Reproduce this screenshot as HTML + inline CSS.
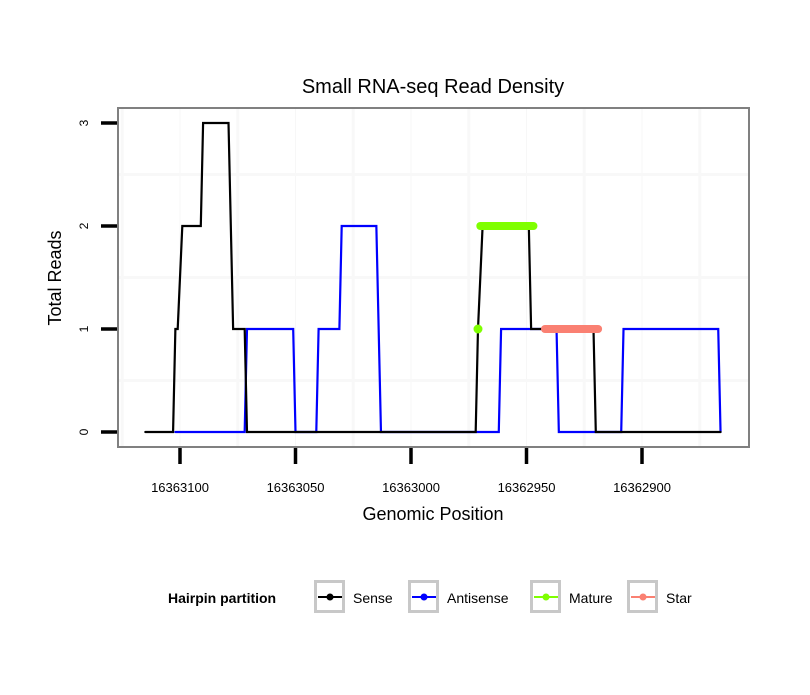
<!DOCTYPE html>
<html><head><meta charset="utf-8"><style>
body{margin:0;background:#fff;}
svg text{font-family:"Liberation Sans",sans-serif;}
</style></head><body>
<svg id="chart" width="810" height="690" xmlns="http://www.w3.org/2000/svg">
<rect width="810" height="690" fill="#fff"/>
<text x="433" y="93" font-size="20" text-anchor="middle">Small RNA-seq Read Density</text>
<g id="grid"></g>
<g id="series"></g>
<rect x="118" y="108" width="631" height="339" fill="none" stroke="#808080" stroke-width="2"/>
<g id="axes"></g>
<text x="433" y="520" font-size="18" text-anchor="middle">Genomic Position</text>
<text transform="translate(61,278) rotate(-90)" font-size="18" text-anchor="middle">Total Reads</text>
<g id="legend"></g>
</svg>
<script>
const xTicks=[16363100,16363050,16363000,16362950,16362900];
const yTicks=[0,1,2,3];
const senseX=[16363115,16363103,16363102,16363101,16363099,16363091,16363090,16363079,16363077,16363072,16363071,16362972,16362971,16362969,16362949,16362948,16362921,16362920,16362866];
const senseY=[0,0,1,1,2,2,3,3,1,1,0,0,1,2,2,1,1,0,0];
const antiX=[16363102,16363072,16363071,16363051,16363050,16363041,16363040,16363031,16363030,16363015,16363013,16362962,16362961,16362937,16362936,16362909,16362908,16362867,16362866];
const antiY=[0,0,1,1,0,0,1,1,2,2,0,0,1,1,0,0,1,1,0];
const matureX=[16362970,16362947];
const matureY=[2,2];
const matureDotX=[16362971];
const matureDotY=[1];
const starX=[16362942,16362919];
const starY=[1,1];
const legendLabels=["Sense","Antisense","Mature","Star"];
const legendColors=["#000000","#0000ff","#7fff00","#fa8072"];

const NS="http://www.w3.org/2000/svg";
const px=v=>180+(16363100-v)*2.31;
const py=v=>432-v*103;
function mk(tag,attrs,parent){const e=document.createElementNS(NS,tag);for(const k in attrs)e.setAttribute(k,attrs[k]);parent.appendChild(e);return e;}
const grid=document.getElementById('grid'),series=document.getElementById('series'),axes=document.getElementById('axes'),legend=document.getElementById('legend');
mk('rect',{x:118,y:108,width:631,height:339,fill:'#fff'},grid);
for(let i=-1;i<xTicks.length;i++){
  const v=i<0?xTicks[0]+25:xTicks[i]-25;
  const l=mk('line',{x1:px(v),x2:px(v),y1:109,y2:446,stroke:'#f8f8f8','stroke-width':3},grid);
  
  
}
xTicks.forEach(v=>{const l=mk('line',{x1:px(v),x2:px(v),y1:109,y2:446,stroke:'#f7f7f7','stroke-width':1},grid);
  
  });
for(let i=0;i<yTicks.length-1;i++){
  const v=yTicks[i]+0.5;
  const l=mk('line',{x1:119,x2:748,y1:py(v),y2:py(v),stroke:'#f8f8f8','stroke-width':3},grid);
  
  
}
function poly(xs,ys,color,w,name){
  const pts=xs.map((x,i)=>px(x)+','+py(ys[i])).join(' ');
  const p=mk('polyline',{points:pts,fill:'none',stroke:color,'stroke-width':w,'stroke-linecap':'round','stroke-linejoin':'miter'},series);
  
  
}
poly(antiX,antiY,'#0000ff',2.2,'antisense-line');
poly(senseX,senseY,'#000000',2.2,'sense-line');
poly(matureX,matureY,'#7fff00',8,'mature-bar');
matureDotX.forEach((x,i)=>{const c=mk('circle',{cx:px(x),cy:py(matureDotY[i]),r:4.5,fill:'#7fff00'},series);
  
  });
poly(starX,starY,'#fa8072',8,'star-bar');
xTicks.forEach(v=>{
  const t=mk('line',{x1:px(v),x2:px(v),y1:448,y2:464,stroke:'#000','stroke-width':3.5},axes);
  
  
  const tx=mk('text',{x:px(v),y:492,'font-size':13,'text-anchor':'middle'},axes);tx.textContent=v;
  
  
});
yTicks.forEach(v=>{
  const t=mk('line',{x1:101,x2:117,y1:py(v),y2:py(v),stroke:'#000','stroke-width':3.5},axes);
  
  
  const tx=mk('text',{transform:`translate(88,${py(v)}) rotate(-90)`,'font-size':12,'text-anchor':'middle'},axes);tx.textContent=v;
  
  
});
const lt=mk('text',{x:168,y:603,'font-size':14,'font-weight':'bold'},legend);lt.textContent='Hairpin partition';


const boxX=[314,408,530,627];
legendLabels.forEach((lab,i)=>{
  const g=mk('g',{},legend);
  
  
  const bx=boxX[i];
  mk('rect',{x:bx+1.5,y:581.5,width:28,height:30,fill:'#fff',stroke:'#c8c8c8','stroke-width':3},g);
  mk('line',{x1:bx+4,x2:bx+28,y1:597,y2:597,stroke:legendColors[i],'stroke-width':2},g);
  mk('circle',{cx:bx+16,cy:597,r:3.5,fill:legendColors[i]},g);
  const t=mk('text',{x:bx+39,y:603,'font-size':14},g);t.textContent=lab;
});
</script>
</body></html>
